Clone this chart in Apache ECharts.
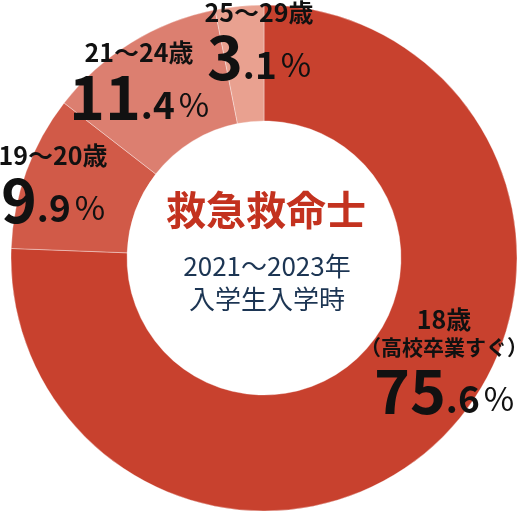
<!DOCTYPE html>
<html>
<head>
<meta charset="utf-8">
<script src="https://cdn.jsdelivr.net/npm/echarts@6/dist/echarts.min.js"></script>
<style>
  html, body { margin: 0; padding: 0; background: #fff; }
  #chart { width: 521px; height: 513px; }
</style>
</head>
<body>
<div id="chart"></div>
<script>
const ageGroups = ["18歳", "19～20歳", "21～24歳", "25～29歳"];
const ageNotes = ["（高校卒業すぐ）", "", "", ""];
const shares = [75.6, 9.9, 11.4, 3.1];
const sliceColors = ["#c8412e", "#d15a48", "#dc7f70", "#e9a190"];
const centerTitle = "救急救命士";
const centerLines = ["2021～2023年", "入学生入学時"];

// label anchors (block centre x, block top y)
const labelSpots = [
  [444, 305],
  [53, 141],
  [139, 38],
  [259, -2],
];

const FONT = '"Noto Sans CJK JP", "Noto Sans", sans-serif';

function formatLabel(params) {
  const i = params.dataIndex;
  const [whole, dec] = shares[i].toFixed(1).split(".");
  let head = `{n|${ageGroups[i]}}`;
  if (ageNotes[i]) head += `\n{s|${ageNotes[i]}}`;
  return `${head}\n{b|${whole}}{d|.${dec}}{p|%}`;
}

const chart = echarts.init(document.getElementById("chart"));
chart.setOption({
  animation: false,
  series: [
    {
      type: "pie",
      center: [264, 258],
      radius: [137, 253],
      startAngle: 90,
      clockwise: true,
      silent: true,
      itemStyle: { borderColor: "rgba(255,255,255,0.35)", borderWidth: 1 },
      label: {
        show: true,
        position: "inside",
        formatter: formatLabel,
        color: "#111",
        fontFamily: FONT,
        rich: {
          n: { fontSize: 25, fontWeight: "bold", lineHeight: 29, color: "#111", fontFamily: FONT },
          s: { fontSize: 21, fontWeight: "bold", lineHeight: 27, color: "#111", fontFamily: FONT },
          b: { fontSize: 61, fontWeight: "bold", lineHeight: 60, color: "#111", fontFamily: FONT, verticalAlign: "bottom" },
          d: { fontSize: 37, fontWeight: "bold", lineHeight: 37, color: "#111", fontFamily: FONT, verticalAlign: "bottom", padding: [0, 0, 4, 0] },
          p: { fontSize: 33, fontWeight: "normal", lineHeight: 33, color: "#111", fontFamily: FONT, verticalAlign: "bottom", padding: [0, 0, 6, 4] },
        },
      },
      labelLine: { show: false },
      labelLayout: (params) => ({
        x: labelSpots[params.dataIndex][0],
        y: labelSpots[params.dataIndex][1],
        align: "center",
        verticalAlign: "top",
      }),
      data: ageGroups.map((name, i) => ({
        name,
        value: shares[i],
        itemStyle: { color: sliceColors[i] },
      })),
    },
  ],
  graphic: [
    {
      type: "text",
      x: 266,
      y: 190,
      style: {
        text: centerTitle,
        fill: "#c3321f",
        font: `bold 40px ${FONT}`,
        align: "center",
        verticalAlign: "top",
      },
    },
    {
      type: "text",
      x: 267,
      y: 250,
      style: {
        text: centerLines.join("\n"),
        fill: "#1c3553",
        font: `normal 26px ${FONT}`,
        lineHeight: 33,
        align: "center",
        verticalAlign: "top",
      },
    },
  ],
});
</script>
</body>
</html>
